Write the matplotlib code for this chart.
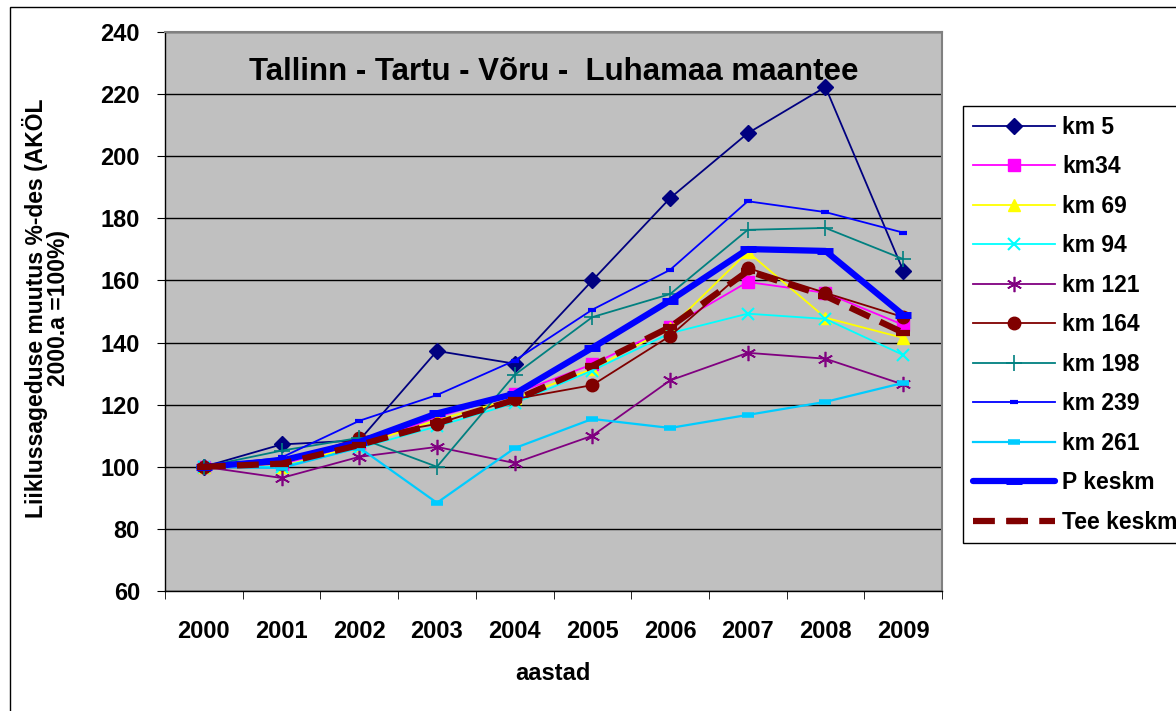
import matplotlib.pyplot as plt
from matplotlib.patches import Rectangle
from matplotlib.ticker import MultipleLocator, FixedLocator

plt.rcParams['font.family'] = ['Liberation Sans', 'DejaVu Sans']
plt.rcParams['font.weight'] = 'bold'

years = ['2000', '2001', '2002', '2003', '2004', '2005', '2006', '2007', '2008', '2009']

km5 = [100, 107.2, 108.5, 137.3, 133.2, 160.0, 186.5, 207.4, 222.3, 163.2]
km34 = [100, 101.0, 107.0, 116.0, 123.5, 133.0, 145.0, 159.5, 156.0, 145.7]
km69 = [100, 100.0, 107.0, 115.0, 122.0, 131.5, 144.7, 169.2, 148.0, 141.5]
km94 = [100, 100.0, 106.0, 113.0, 120.5, 131.0, 143.0, 149.3, 147.6, 136.0]
km121 = [100, 96.4, 103.2, 106.4, 101.2, 110.0, 127.8, 136.7, 134.8, 126.5]
km164 = [100, 101.0, 109.3, 113.8, 121.8, 126.3, 142.1, 164.0, 156.0, 148.2]
km198 = [100, 105.2, 109.3, 100.0, 129.6, 148.2, 155.6, 176.3, 176.9, 166.9]
km239 = [100, 103.0, 114.8, 123.1, 134.2, 150.6, 163.4, 185.5, 182.0, 175.4]
km261 = [100, 99.6, 106.2, 88.4, 106.0, 115.4, 112.5, 116.7, 120.9, 127.0]
p_keskm = [100, 102.0, 108.0, 117.2, 123.5, 138.3, 153.5, 170.1, 169.5, 148.9]
tee_keskm = [100, 101.0, 107.0, 114.0, 121.5, 132.5, 145.0, 163.0, 155.0, 143.2]

fig = plt.figure(figsize=(11.76, 7.11), dpi=100)
# outer chart border (right and bottom run off the picture)
fig.patches.append(Rectangle((10 / 1176, -0.05), 1.1, 1 - 7 / 711 + 0.05,
                             transform=fig.transFigure, fill=False,
                             edgecolor='black', linewidth=1))
ax = fig.add_axes([165 / 1176, 1 - 591 / 711, 777 / 1176, 559 / 711])
ax.set_facecolor('#C0C0C0')

x = list(range(len(years)))

ax.plot(x, km5, color='#000080', lw=1.3, marker='D', ms=8, label='km 5')
ax.plot(x, km34, color='#FF00FF', lw=1.3, marker='s', ms=8, label='km34')
ax.plot(x, km69, color='#FFFF00', lw=1.3, marker='^', ms=9, label='km 69')
ax.plot(x, km94, color='#00FFFF', lw=1.3, marker='x', ms=9, mew=1.5, label='km 94')
ax.plot(x, km121, color='#800080', lw=1.3, marker=(6, 2, 0), ms=11, mew=1.2, label='km 121')
ax.plot(x, km164, color='#800000', lw=1.3, marker='o', ms=9, label='km 164')
ax.plot(x, km198, color='#008080', lw=1.3, marker='+', ms=11, mew=1.2, label='km 198')
ax.plot(x, km239, color='#0000FF', lw=1.3, marker='_', ms=6, mew=3, label='km 239')
ax.plot(x, km261, color='#00CCFF', lw=1.6, marker='_', ms=8, mew=4, label='km 261')
ax.plot(x, p_keskm, color='#0000FF', lw=4.5, marker='_', ms=12, mew=5,
        solid_capstyle='round', label='P keskm')
ax.plot(x, tee_keskm, color='#800000', lw=4.5, ls=(0, (3.5, 1.8)), marker='_',
        ms=10, mew=4.5, label='Tee keskm')

ax.set_xlim(-0.5, 9.5)
ax.set_ylim(60, 240)
ax.yaxis.set_major_locator(MultipleLocator(20))
ax.grid(axis='y', color='black', lw=1)
ax.set_axisbelow(True)

ax.set_xticks(x)
ax.set_xticklabels(years)
ax.xaxis.set_minor_locator(FixedLocator([i - 0.5 for i in range(11)]))
ax.tick_params(axis='x', which='major', length=0, pad=21, labelsize=17)
ax.tick_params(axis='x', which='minor', length=6, direction='out', color='black')
ax.tick_params(axis='y', length=6, direction='out', pad=12, labelsize=17, color='black')

for s in ax.spines.values():
    s.set_color('#808080')
    s.set_linewidth(1.5)
ax.spines['left'].set_color('black')
ax.spines['left'].set_linewidth(1)
ax.spines['bottom'].set_color('black')
ax.spines['bottom'].set_linewidth(1)

ax.text(0.5, 0.928, 'Tallinn - Tartu - Võru -  Luhamaa maantee', transform=ax.transAxes,
        ha='center', va='center', fontsize=22.5, fontweight='bold')

fig.text(553 / 1176, 1 - 673 / 711, 'aastad', ha='center', va='center',
         fontsize=17, fontweight='bold')
fig.text(46 / 1176, 1 - 308 / 711, 'Liiklussageduse muutus %-des (AKÖL\n2000.a =100%)',
         rotation=90, ha='center', va='center', multialignment='center',
         fontsize=16.5, fontweight='bold', linespacing=0.95)

leg = ax.legend(loc='upper left', bbox_to_anchor=(963 / 1176, 1 - 106 / 711),
                bbox_transform=fig.transFigure, frameon=True, fancybox=False,
                edgecolor='black', facecolor='white', framealpha=1,
                fontsize=16.5, handlelength=3.6, labelspacing=0.72,
                borderpad=0.42, handletextpad=0.3, borderaxespad=0)
leg.get_frame().set_linewidth(1)
for t in leg.get_texts():
    t.set_fontweight('bold')

fig.savefig('out.png', dpi=100)
